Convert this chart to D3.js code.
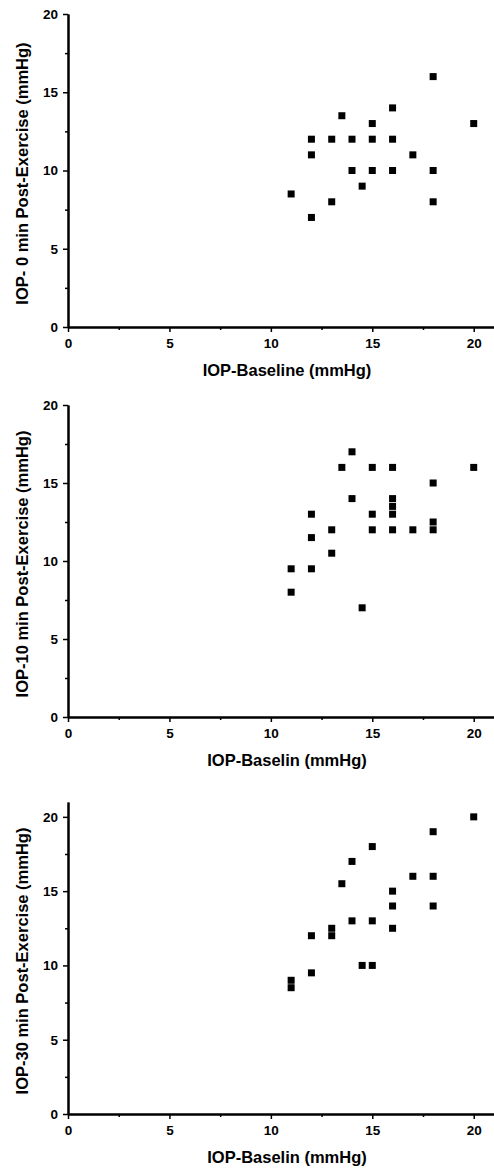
<!DOCTYPE html>
<html>
<head>
<meta charset="utf-8">
<script src="https://cdn.jsdelivr.net/npm/d3@7"></script>
<style>
    body { margin: 0; background: #fff; }
    text { font-family: "Liberation Sans", Arial, sans-serif; font-weight: bold; fill: #000; }
</style>
</head>
<body>
<div id="chart"></div>
<script>
// data
var baseline_0  = [18, 16, 13.5, 15, 20, 12, 13, 14, 15, 16, 12, 17, 14, 15, 16, 18, 14.5, 11, 12, 13, 18];
var post_0      = [16, 14, 13.5, 13, 13, 12, 12, 12, 12, 12, 11, 11, 10, 10, 10, 10, 9, 8.5, 7, 8, 8];

var baseline_10 = [14, 13.5, 15, 16, 20, 18, 14, 16, 16, 16, 12, 15, 18, 13, 15, 16, 17, 18, 12, 13, 11, 12, 11, 14.5];
var post_10     = [17, 16, 16, 16, 16, 15, 14, 14, 13.5, 13, 13, 13, 12.5, 12, 12, 12, 12, 12, 11.5, 10.5, 9.5, 9.5, 8, 7];

var baseline_30 = [20, 18, 15, 14, 17, 18, 13.5, 16, 16, 18, 14, 15, 13, 16, 12, 13, 14.5, 15, 12, 11, 11];
var post_30     = [20, 19, 18, 17, 16, 16, 15.5, 15, 14, 14, 13, 13, 12.5, 12.5, 12, 12, 10, 10, 9.5, 9, 8.5];

var x_major = [0, 5, 10, 15, 20];
var x_minor = [2.5, 7.5, 12.5, 17.5];
var y_major = [0, 5, 10, 15, 20];
var y_minor = [2.5, 7.5, 12.5, 17.5];

var panels = [
    {xs: baseline_0,  ys: post_0,  y_max: 20, top: 14,  bottom: 327,
     y_title: 'IOP- 0 min Post-Exercise (mmHg)',  x_title: 'IOP-Baseline (mmHg)'},
    {xs: baseline_10, ys: post_10, y_max: 20, top: 405, bottom: 717,
     y_title: 'IOP-10 min Post-Exercise (mmHg)', x_title: 'IOP-Baselin (mmHg)'},
    {xs: baseline_30, ys: post_30, y_max: 21, top: 802, bottom: 1114,
     y_title: 'IOP-30 min Post-Exercise (mmHg)', x_title: 'IOP-Baselin (mmHg)'}
];

var chart_width  = 494;
var chart_height = 1170;
var axis_left    = 68;
var marker       = 7;

var svg = d3.select('#chart')
    .append('svg')
    .attr('width', chart_width)
    .attr('height', chart_height);

var x_scale = d3.scaleLinear()
    .domain([0, 21])
    .range([axis_left, chart_width]);

panels.forEach(function(p){
    var y_scale = d3.scaleLinear()
        .domain([0, p.y_max])
        .range([p.bottom, p.top]);

    var g = svg.append('g');

    // x axis, minor then major ticks
    g.append('g')
        .attr('transform', 'translate(0,' + p.bottom + ')')
        .call(d3.axisBottom(x_scale).tickValues(x_minor).tickSize(3).tickSizeOuter(0).tickFormat(''));
    g.append('g')
        .attr('transform', 'translate(0,' + p.bottom + ')')
        .call(d3.axisBottom(x_scale).tickValues(x_major).tickSize(5).tickSizeOuter(0).tickPadding(6).tickFormat(d3.format('d')));

    // y axis
    g.append('g')
        .attr('transform', 'translate(' + axis_left + ',0)')
        .call(d3.axisLeft(y_scale).tickValues(y_minor).tickSize(3).tickSizeOuter(0).tickFormat(''));
    g.append('g')
        .attr('transform', 'translate(' + axis_left + ',0)')
        .call(d3.axisLeft(y_scale).tickValues(y_major).tickSize(5).tickSizeOuter(0).tickPadding(5).tickFormat(d3.format('d')));

    g.selectAll('.domain')
        .attr('stroke', '#000')
        .attr('stroke-width', 2);
    g.selectAll('.tick line')
        .attr('stroke', '#000')
        .attr('stroke-width', 1.5);
    g.selectAll('.tick text')
        .attr('font-size', 13.5)
        .attr('font-family', '"Liberation Sans", Arial, sans-serif')
        .attr('font-weight', 'bold')
        .attr('fill', '#000');

    // points
    g.selectAll('rect')
        .data(p.xs)
        .enter()
        .append('rect')
        .attr('x', function(d){
            return x_scale(d) - marker / 2;
        })
        .attr('y', function(d, i){
            return y_scale(p.ys[i]) - marker / 2;
        })
        .attr('width', marker)
        .attr('height', marker)
        .attr('fill', '#000');

    // titles
    g.append('text')
        .text(p.x_title)
        .attr('x', (axis_left + x_scale(21)) / 2 + 6)
        .attr('y', p.bottom + 49)
        .attr('font-size', 16.5)
        .attr('text-anchor', 'middle');

    g.append('text')
        .text(p.y_title)
        .attr('transform', 'translate(28,' + ((p.top + p.bottom) / 2 + 3) + ') rotate(-90)')
        .attr('font-size', 16.5)
        .attr('text-anchor', 'middle');
});
</script>
</body>
</html>
